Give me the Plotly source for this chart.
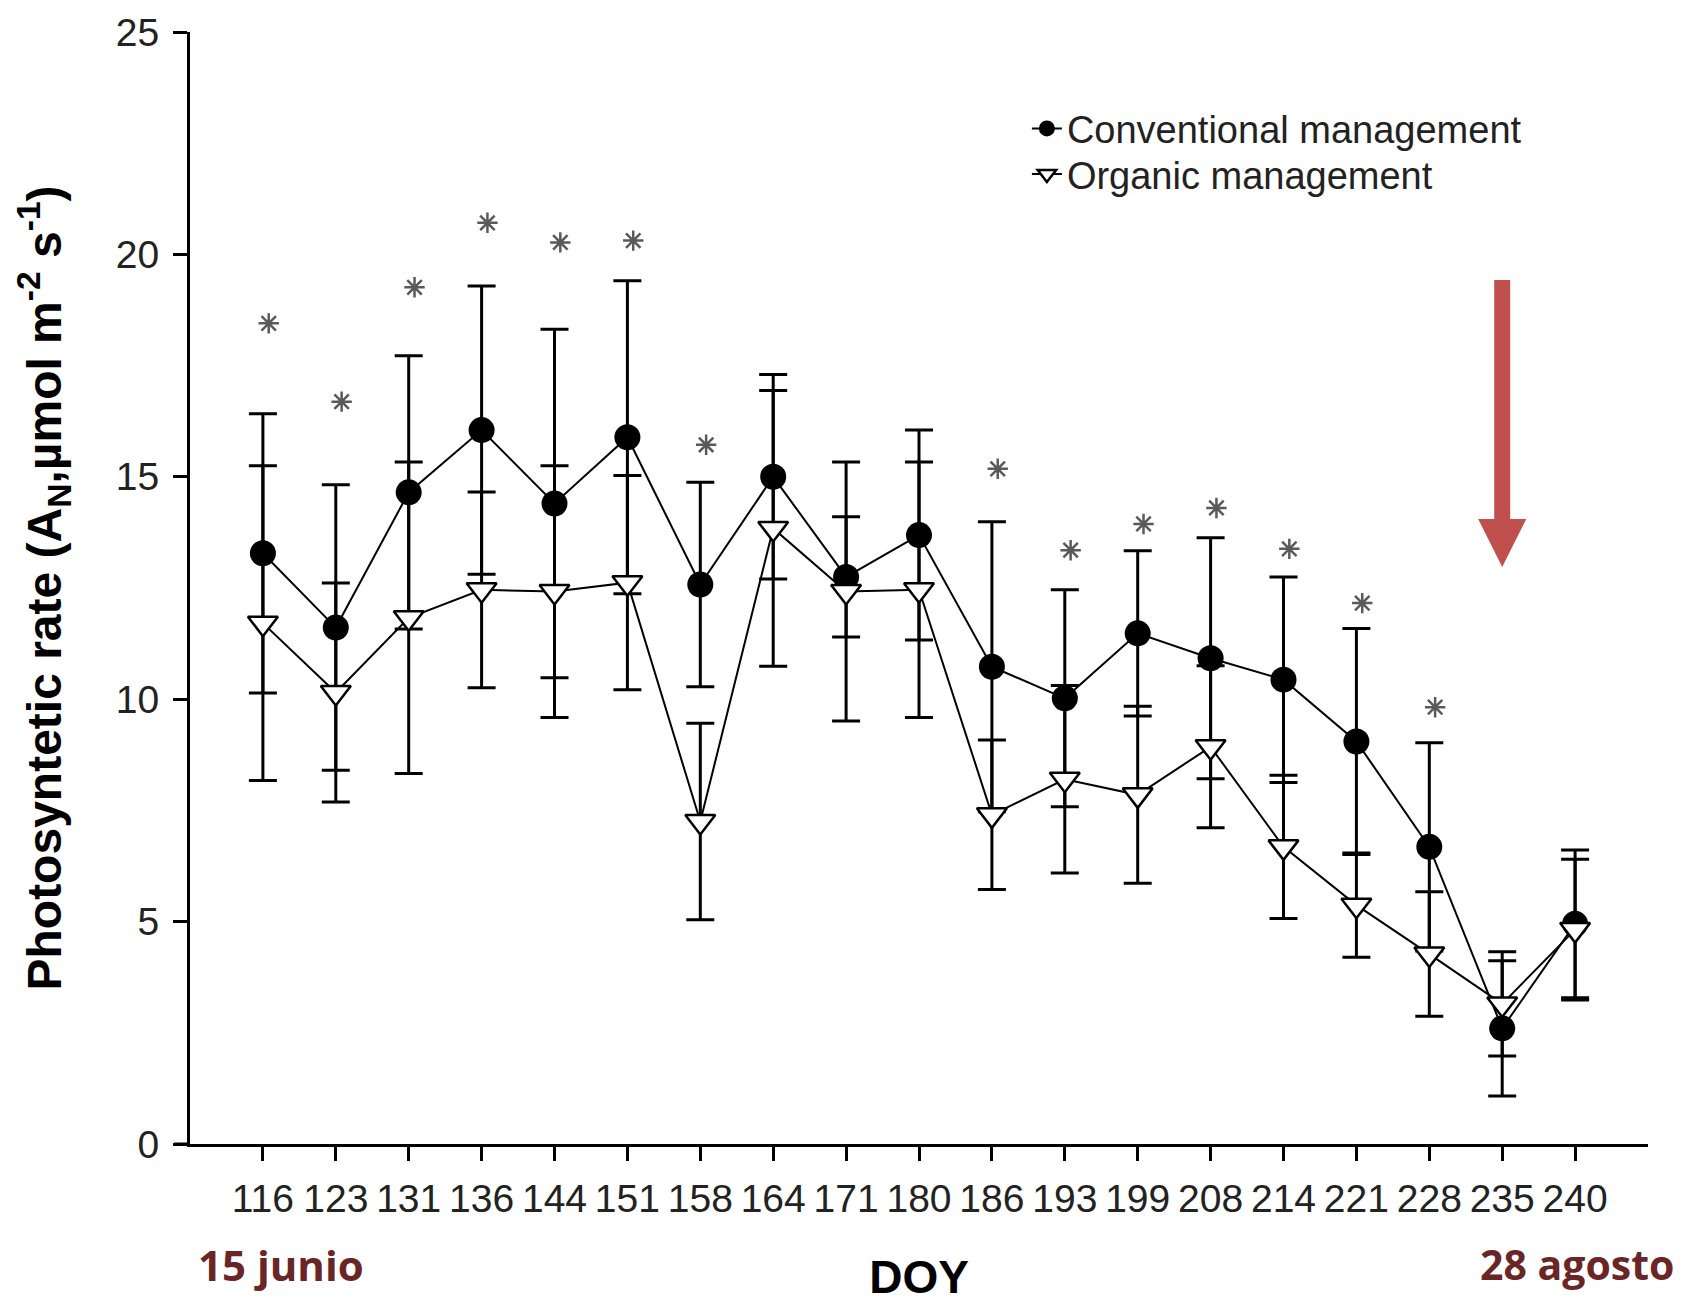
import plotly.graph_objects as go

# Day of year of each measurement
doy = [116, 123, 131, 136, 144, 151, 158, 164, 171, 180,
       186, 193, 199, 208, 214, 221, 228, 235, 240]

# Net photosynthetic rate (mean and error) per management system
conv_mean = [13.28, 11.61, 14.65, 16.05, 14.40, 15.89, 12.58, 15.00, 12.75, 13.69,
             10.73, 10.02, 11.48, 10.92, 10.44, 9.05, 6.68, 2.60, 4.95]
conv_err = [3.14, 3.21, 3.07, 3.24, 3.92, 3.52, 2.30, 2.30, 1.35, 2.36,
            3.26, 2.44, 1.86, 2.71, 2.31, 2.54, 2.34, 1.52, 1.66]
org_mean = [11.71, 10.15, 11.83, 12.46, 12.42, 12.62, 7.25, 13.84, 12.42, 12.46,
            7.40, 8.20, 7.85, 8.93, 6.68, 5.37, 4.27, 3.15, 4.82]
org_err = [3.54, 2.46, 3.50, 2.20, 2.83, 2.41, 2.21, 3.10, 2.91, 2.87,
           1.68, 2.11, 1.99, 1.82, 1.61, 1.17, 1.40, 1.17, 1.58]

# Height of the significance asterisk for each date (None = no significant difference)
signif_y = [18.45, 16.69, 19.26, 20.71, 20.27, 20.31, 15.72, None, None, None,
            15.18, 13.35, 13.94, 14.30, 13.38, 12.16, 9.82, None, None]

y_ticks = [0, 5, 10, 15, 20, 25]

SANS = "'Liberation Sans', Arial, sans-serif"
DATE_FONT = "'Open Sans', 'Noto Sans', sans-serif"
DATE_RED = "#6a2626"
TEXT_GREY = "#222222"

pos = list(range(len(doy)))
sig_x = [p + 0.08 for p, s in zip(pos, signif_y) if s is not None]
sig_v = [s for s in signif_y if s is not None]

fig = go.Figure()

fig.add_trace(go.Scatter(
    x=pos, y=conv_mean, name="Conventional management", legend="legend",
    mode="lines+markers",
    line=dict(color="black", width=2),
    marker=dict(symbol="circle", size=26, color="black"),
    error_y=dict(type="data", array=conv_err, visible=True,
                 color="black", thickness=3, width=14),
))

fig.add_trace(go.Scatter(
    x=pos, y=org_mean, name="Organic management", legend="legend2",
    mode="lines+markers",
    line=dict(color="black", width=2),
    marker=dict(symbol="triangle-down", size=26, color="white",
                line=dict(color="black", width=2.5)),
    error_y=dict(type="data", array=org_err, visible=True,
                 color="black", thickness=3, width=14),
))

fig.add_trace(go.Scatter(
    x=sig_x, y=sig_v, mode="markers", showlegend=False, hoverinfo="skip",
    marker=dict(symbol="asterisk-open", size=17, color="#5a5a5a",
                line=dict(color="#5a5a5a", width=2.5)),
))

legend_common = dict(
    xanchor="left", yanchor="middle",
    font=dict(family=SANS, size=38, color=TEXT_GREY),
    bgcolor="rgba(0,0,0,0)", borderwidth=0, itemwidth=30,
)

fig.update_layout(
    width=1684, height=1303,
    margin=dict(l=190, r=36, t=32, b=159),
    paper_bgcolor="white", plot_bgcolor="white",
    showlegend=True,
    legend=dict(x=0.574, y=0.913, **legend_common),
    legend2=dict(x=0.574, y=0.872, **legend_common),
    xaxis=dict(
        range=[-1, len(doy)], automargin=False,
        tickmode="array", tickvals=pos, ticktext=[str(d) for d in doy],
        tickangle=0,
        showline=True, linecolor="black", linewidth=3,
        ticks="outside", ticklen=14, tickwidth=2.5, tickcolor="black",
        showgrid=False, zeroline=False,
        tickfont=dict(family=SANS, size=39, color=TEXT_GREY),
        ticklabelstandoff=4,
        title=dict(text="DOY", standoff=44,
                   font=dict(family=SANS, size=46, color="black", weight="bold")),
    ),
    yaxis=dict(
        range=[0, 25], automargin=False,
        tickmode="array", tickvals=y_ticks,
        showline=True, linecolor="black", linewidth=3,
        ticks="outside", ticklen=14, tickwidth=2.5, tickcolor="black",
        showgrid=False, zeroline=False,
        tickfont=dict(family=SANS, size=39, color=TEXT_GREY),
        ticklabelstandoff=6,
        title=dict(text="Photosyntetic rate (A<sub>N</sub>,µmol m<sup>-2</sup> s<sup>-1</sup>)",
                   standoff=40,
                   font=dict(family=SANS, size=48, color="black", weight="bold")),
    ),
)

# x-axis line continues a little to the left of the y-axis
fig.add_shape(type="line", xref="paper", yref="paper",
              x0=-0.011, x1=0, y0=0, y1=0,
              line=dict(color="black", width=3))

# Red arrow pointing down at the last sampling dates
fig.add_shape(type="path", xref="x", yref="y",
              xsizemode="pixel", ysizemode="pixel",
              xanchor=17, yanchor=12.97,
              path="M 0,0 L -24,48 L -8,48 L -8,287 L 8,287 L 8,48 L 24,48 Z",
              fillcolor="#c0504d", line=dict(width=0))

# Calendar dates at the ends of the season
fig.add_annotation(text="15 junio", xref="paper", yref="paper",
                   x=0.004, y=-0.108, xanchor="left", yanchor="middle",
                   showarrow=False,
                   font=dict(family=DATE_FONT, size=42, color=DATE_RED, weight="bold"))
fig.add_annotation(text="28 agosto", xref="paper", yref="paper",
                   x=1.019, y=-0.108, xanchor="right", yanchor="middle",
                   showarrow=False,
                   font=dict(family=DATE_FONT, size=41, color=DATE_RED, weight="bold"))

fig.write_html("out.html")
